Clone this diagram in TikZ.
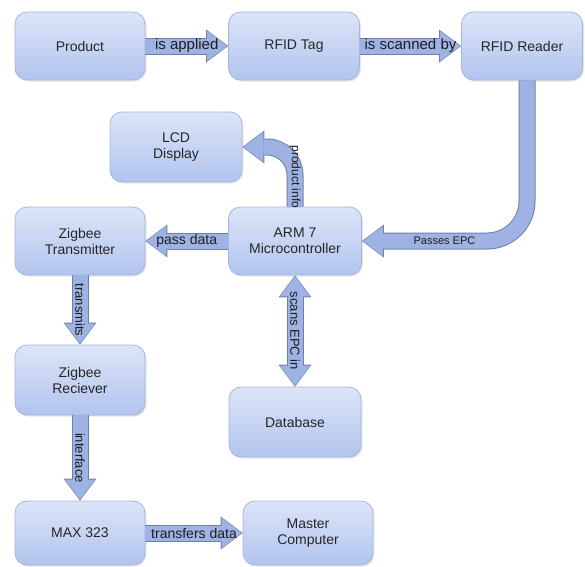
\documentclass[tikz,border=0pt]{standalone}
\usepackage{fontspec}
\setmainfont{Liberation Sans}
\usetikzlibrary{arrows.meta,shadows}

\definecolor{boxtop}{HTML}{DCE5F8}
\definecolor{boxmid}{HTML}{C8D5F3}
\definecolor{boxbot}{HTML}{B2C4EE}
\definecolor{boxline}{HTML}{A3B6E0}
\definecolor{arrowfill}{HTML}{9EB3E4}
\definecolor{arrowline}{HTML}{6F80A6}
\definecolor{labeltext}{HTML}{1E1E1E}

\tikzset{
  block/.style={rectangle, rounded corners=12pt, draw=boxline, line width=0.8pt,
    top color=boxtop, middle color=boxmid, bottom color=boxbot,
    minimum width=130pt, minimum height=68pt, align=center,
    font=\fontsize{14}{16}\selectfont, text=black!85,
    drop shadow={opacity=0.2, shadow xshift=1.5pt, shadow yshift=-1.5pt}},
  flow/.style={line width=15pt, draw=arrowfill, shorten >=1pt,
    -{Triangle[width=30pt,length=20pt,line width=0pt]},
    preaction={draw=arrowline, line width=17pt, shorten >=0pt,
      -{Triangle[width=33pt,length=22pt,line width=0pt]}}},
  flowboth/.style={line width=15pt, draw=arrowfill, shorten >=1pt, shorten <=1pt,
    {Triangle[width=30pt,length=20pt,line width=0pt]}-{Triangle[width=30pt,length=20pt,line width=0pt]},
    preaction={draw=arrowline, line width=17pt, shorten >=0pt, shorten <=0pt,
      {Triangle[width=33pt,length=22pt,line width=0pt]}-{Triangle[width=33pt,length=22pt,line width=0pt]}}},
  tag/.style={font=\fontsize{14}{16}\selectfont, text=labeltext, inner sep=0pt}
}

\begin{document}
\begin{tikzpicture}[x=1pt,y=-1pt]
\useasboundingbox (0,0) rectangle (585,566);

% boxes
\node[block] (product) at (80,46) {Product};
\node[block, minimum width=131pt] (tag) at (294,46) {RFID Tag};
\node[block, minimum width=121pt] (reader) at (522,46) {RFID Reader};
\node[block, minimum width=132pt, minimum height=70pt] (lcd) at (176,147) {LCD\\Display};
\node[block, minimum width=133pt] (arm) at (295,241) {ARM 7\\Microcontroller};
\node[block] (tx) at (80,241) {Zigbee\\Transmitter};
\node[block, minimum height=70pt] (rx) at (80,380) {Zigbee\\Reciever};
\node[block, minimum width=132pt, minimum height=70pt] (db) at (295,422) {Database};
\node[block, minimum height=64pt] (max) at (80,533) {MAX 323};
\node[block, minimum height=64pt] (master) at (308,533) {Master\\Computer};

% block arrows
\draw[flow] (product.east) -- (tag.west) node[midway, tag, font=\fontsize{15}{17}\selectfont] {is applied};
\draw[flow] (tag.east) -- (reader.west) node[midway, tag, font=\fontsize{15}{17}\selectfont] {is scanned by};
\draw[flow, rounded corners=40pt] ([xshift=5pt]reader.south) |- (arm.east)
  node[pos=0.75, tag, font=\fontsize{11}{13}\selectfont] {Passes EPC};
\draw[flow, rounded corners=28pt] (arm.north) |- (lcd.east)
  node[pos=0.25, tag, rotate=-90, font=\fontsize{12}{14}\selectfont] {product info};
\draw[flow] (arm.west) -- (tx.east) node[midway, tag] {pass data};
\draw[flow] (tx.south) -- (rx.north) node[midway, tag, sloped, font=\fontsize{13}{15}\selectfont] {transmits};
\draw[flow] (rx.south) -- (max.north) node[midway, tag, sloped, font=\fontsize{13}{15}\selectfont] {interface};
\draw[flowboth] (arm.south) -- (db.north) node[midway, tag, sloped, font=\fontsize{13}{15}\selectfont] {scans EPC in};
\draw[flow] (max.east) -- (master.west) node[midway, tag] {transfers data};

\end{tikzpicture}
\end{document}
